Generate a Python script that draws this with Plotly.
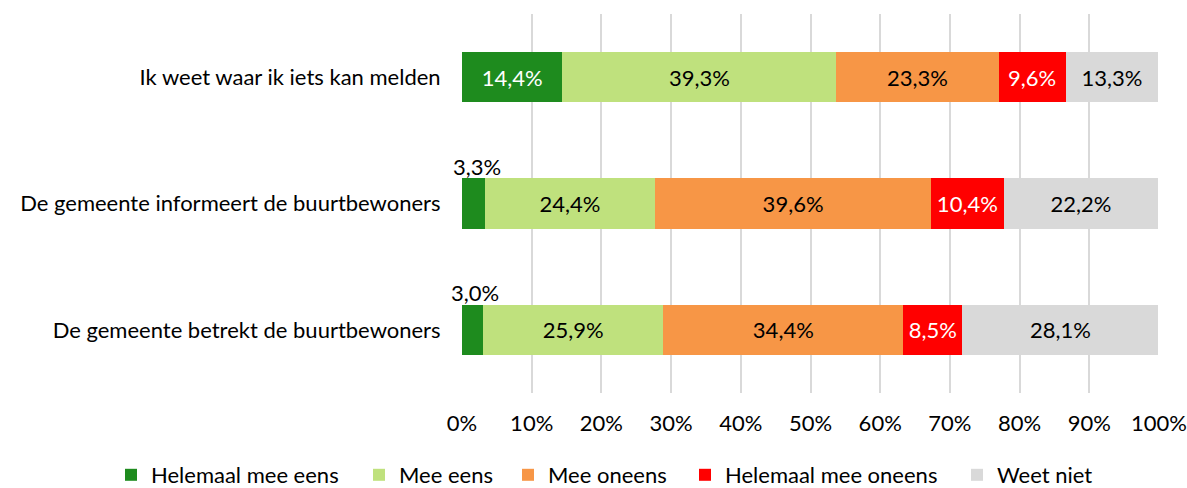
import plotly.graph_objects as go

categories = ["Ik weet waar ik iets kan melden",
              "De gemeente informeert de buurtbewoners",
              "De gemeente betrekt de buurtbewoners"]
series_names = ["Helemaal mee eens", "Mee eens", "Mee oneens", "Helemaal mee oneens", "Weet niet"]
helemaal_eens = [14.4, 3.3, 3.0]
mee_eens = [39.3, 24.4, 25.9]
mee_oneens = [23.3, 39.6, 34.4]
helemaal_oneens = [9.6, 10.4, 8.5]
weet_niet = [13.3, 22.2, 28.1]
tick_vals = [0, 10, 20, 30, 40, 50, 60, 70, 80, 90, 100]
tick_text = [f"{v}%" for v in tick_vals]

series = [helemaal_eens, mee_eens, mee_oneens, helemaal_oneens, weet_niet]
colors = ["#1E8B1E", "#BFE17D", "#F79646", "#FF0000", "#D9D9D9"]
text_colors = ["white", "black", "black", "white", "black"]
# legend entry marker centres (pixels from left of page)
legend_marker_px = [134, 382, 531, 708, 980]

W, H = 1187, 488
FONT = "Lato"
FS = 22
fig = go.Figure()
annotations = []
legend_ids = ["legend", "legend2", "legend3", "legend4", "legend5"]
for name, vals, col, tcol, lid in zip(series_names, series, colors, text_colors, legend_ids):
    texts = []
    for cat, v in zip(categories, vals):
        if v < 5:
            texts.append("")
        else:
            texts.append(f"{v:.1f}%".replace(".", ","))
    fig.add_trace(go.Bar(
        name=name, y=categories, x=vals, orientation="h",
        marker=dict(color=col, line=dict(width=0)),
        text=texts, textposition="inside", insidetextanchor="middle",
        textfont=dict(color=tcol, size=FS, family=FONT),
        hoverinfo="skip", legend=lid,
    ))

# small labels above bars
for cat, v in zip(categories, helemaal_eens):
    if v < 5:
        annotations.append(dict(
            x=v / 2, y=cat, xref="x", yref="y", text=f"{v:.1f}%".replace(".", ","),
            showarrow=False, yshift=37, xshift=3,
            font=dict(size=FS, family=FONT, color="black")))

legend_layout = {}
for lid, mx in zip(legend_ids, legend_marker_px):
    legend_layout[lid] = dict(
        orientation="h", xref="container", x=(mx - 23) / W, xanchor="left",
        yref="container", y=1 - 454 / H, yanchor="top",
        font=dict(size=FS, family=FONT, color="black"),
        itemwidth=30, bgcolor="rgba(0,0,0,0)")

fig.update_layout(
    barmode="stack", bargap=0.6,
    width=W, height=H,
    margin=dict(l=462, r=28, t=14, b=95, autoexpand=False),
    plot_bgcolor="white", paper_bgcolor="white",
    font=dict(family=FONT, size=FS, color="black"),
    uniformtext=dict(mode=False),
    xaxis=dict(range=[0, 100], tickvals=tick_vals, ticktext=tick_text,
               showgrid=True, gridcolor="#D9D9D9", gridwidth=2, zeroline=False,
               showline=False, ticks="outside", ticklen=11, tickcolor="rgba(0,0,0,0)",
               tickfont=dict(size=FS, family=FONT, color="black"), fixedrange=True,
               automargin=False),
    yaxis=dict(autorange="reversed", showgrid=False, ticks="outside", ticklen=16,
               tickcolor="rgba(0,0,0,0)", tickfont=dict(size=FS, family=FONT, color="black"),
               automargin=False),
    annotations=annotations,
    showlegend=True,
    **legend_layout,
)

fig.write_html("out.html", config={"displayModeBar": False},
               post_script="document.body.style.margin='0';")
